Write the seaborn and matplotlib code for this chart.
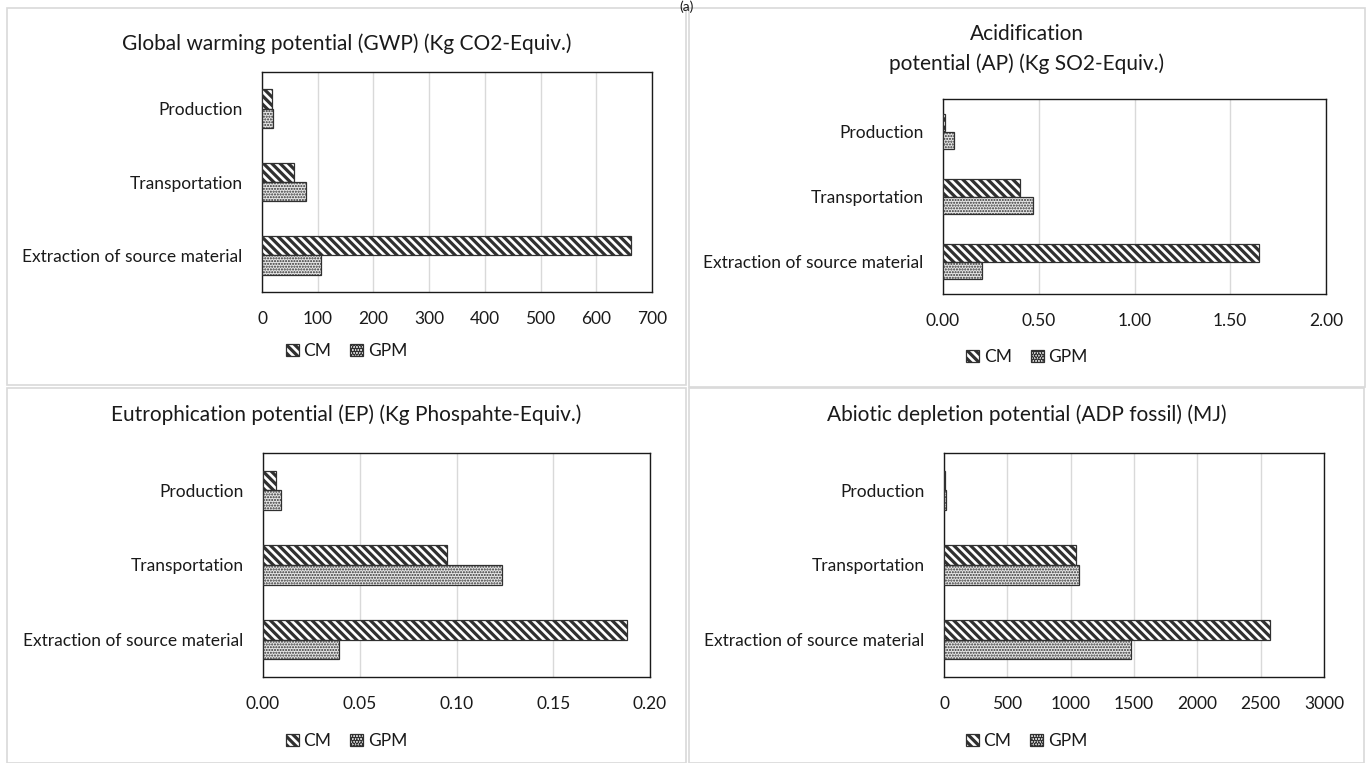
import numpy as np
import pandas as pd
import matplotlib.pyplot as plt
import matplotlib.ticker as mticker
from matplotlib.patches import Rectangle, Patch
import seaborn as sns

# -----------------------------
# Data
# -----------------------------
stages = ["Production", "Transportation", "Extraction of source material"]
materials = ["CM", "GPM"]

gwp_cm = [18, 58, 663]
gwp_gpm = [20, 79, 106]
ap_cm = [0.011, 0.403, 1.651]
ap_gpm = [0.057, 0.471, 0.202]
ep_cm = [0.0066, 0.0952, 0.188]
ep_gpm = [0.0095, 0.1234, 0.0393]
adp_cm = [7, 1040, 2576]
adp_gpm = [14, 1067, 1478]

titles = [
    "Global warming potential (GWP) (Kg CO2-Equiv.)",
    "Acidification\npotential (AP) (Kg SO2-Equiv.)",
    "Eutrophication potential (EP) (Kg Phospahte-Equiv.)",
    "Abiotic depletion potential (ADP fossil) (MJ)",
]
xlims = [700, 2.0, 0.20, 3000]
xsteps = [100, 0.5, 0.05, 500]
xfmts = ["{x:.0f}", "{x:.2f}", "{x:.2f}", "{x:.0f}"]

# -----------------------------
# Style
# -----------------------------
sns.set_theme(style="white")
plt.rcParams["font.family"] = ["Lato", "DejaVu Sans"]
plt.rcParams["hatch.linewidth"] = 2.3
plt.rcParams["text.color"] = "#1a1a1a"

W, H = 1370, 763
fig = plt.figure(figsize=(W / 100, H / 100), dpi=100)

# panel frames (pixel boxes: left, top, right, bottom)
frames = [(7, 8, 686, 385), (689, 8, 1365, 387), (7, 388, 686, 763), (689, 388, 1364, 763)]
for l, t, r, b in frames:
    fig.patches.append(Rectangle((l / W, 1 - b / H), (r - l) / W, (b - t) / H,
                                 transform=fig.transFigure, fill=False,
                                 edgecolor="#d9d9d9", lw=1.2))

# axes boxes in pixels
boxes = [(262, 72, 652, 292), (943, 99, 1326, 294), (263, 453, 650, 677), (944, 453, 1324, 677)]
title_y = [44, 49, 415, 415]
legend_y = [351, 357, 741, 741]

series = [(gwp_cm, gwp_gpm), (ap_cm, ap_gpm), (ep_cm, ep_gpm), (adp_cm, adp_gpm)]

hatches = {"CM": "\\\\\\\\", "GPM": "......"}
faces = {"CM": "white", "GPM": "#e6e6e6"}
hatch_lw = {"CM": 2.3, "GPM": 1.0}

for i, ((l, t, r, b), (cm, gpm)) in enumerate(zip(boxes, series)):
    ax = fig.add_axes([l / W, 1 - b / H, (r - l) / W, (b - t) / H])
    df = pd.DataFrame({
        "stage": stages * 2,
        "material": ["CM"] * 3 + ["GPM"] * 3,
        "value": list(cm) + list(gpm),
    })
    sns.barplot(data=df, y="stage", x="value", hue="material", order=stages,
                hue_order=materials, orient="h", width=0.53, ax=ax,
                palette=faces, edgecolor="#303030", linewidth=0.9,
                legend=False, zorder=3)
    for cont, m in zip(ax.containers, materials):
        for bar in cont:
            bar.set_hatch(hatches[m])
            bar.set_facecolor(faces[m])
            if hasattr(bar, "set_hatch_linewidth"):
                bar.set_hatch_linewidth(hatch_lw[m])

    ax.set_xlim(0, xlims[i])
    ax.xaxis.set_major_locator(mticker.MultipleLocator(xsteps[i]))
    ax.xaxis.set_major_formatter(mticker.StrMethodFormatter(xfmts[i]))
    ax.grid(axis="x", color="#d9d9d9", lw=1.0, zorder=0)
    ax.set_axisbelow(True)
    ax.set(xlabel="", ylabel="")
    ax.tick_params(axis="both", length=0, labelsize=12.5, colors="#1a1a1a")
    ax.tick_params(axis="x", pad=14)
    ax.tick_params(axis="y", pad=14)
    for s in ax.spines.values():
        s.set_visible(True)
        s.set_color("#1a1a1a")
        s.set_linewidth(1.0)

    # title and legend centered on the panel frame
    fl, ft, fr, fb = frames[i]
    cx = (fl + fr) / 2 / W
    fig.text(cx, 1 - title_y[i] / H, titles[i], ha="center", va="center",
             fontsize=15, linespacing=1.55, color="#1a1a1a")
    handles = [Patch(facecolor=faces[m], edgecolor="#303030", hatch=hatches[m], lw=0.9)
               for m in materials]
    fig.legend(handles, materials, loc="center", ncol=2, frameon=False,
               bbox_to_anchor=(cx, 1 - legend_y[i] / H), fontsize=12.5,
               handlelength=0.75, handleheight=0.75, handletextpad=0.25,
               columnspacing=1.1)

fig.text(687 / W, 1.0, "(a)", ha="center", va="top", fontsize=10)

fig.savefig("out.png", dpi=100)
